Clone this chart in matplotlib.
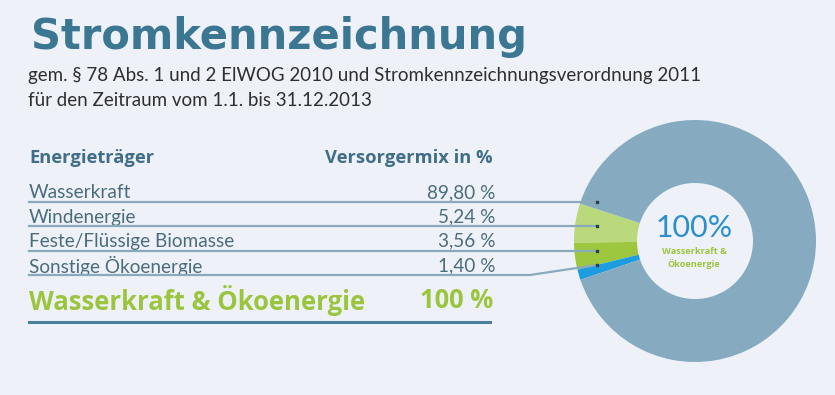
import matplotlib
matplotlib.use("Agg")
import matplotlib.pyplot as plt

# --- Daten ---
energietraeger = ["Wasserkraft", "Windenergie", "Feste/Flüssige Biomasse", "Sonstige Ökoenergie"]
anteile = [89.80, 5.24, 3.56, 1.40]
anteil_labels = ["89,80 %", "5,24 %", "3,56 %", "1,40 %"]
farben = ["#86abc0", "#b9d97c", "#9dc73e", "#1d9de0"]
summe_label = "100 %"

titel = "Stromkennzeichnung"
untertitel = ["gem. § 78 Abs. 1 und 2 ElWOG 2010 und Stromkennzeichnungsverordnung 2011",
              "für den Zeitraum vom 1.1. bis 31.12.2013"]

BG = "#eef2f8"
H = 395
FONT = "Lato"
FONT_B = "Open Sans"

fig = plt.figure(figsize=(8.35, 3.95), dpi=100, facecolor=BG)
ax = fig.add_axes([0, 0, 1, 1])
ax.set_facecolor(BG)


def y(p):
    # Pixel von oben -> Datenkoordinate
    return H - p


def fit(t, width):
    # Schriftgroesse so anpassen, dass der Text die Zielbreite hat
    fig.canvas.draw()
    r = fig.canvas.get_renderer()
    w = t.get_window_extent(r).width
    t.set_fontsize(t.get_fontsize() * width / w)


# --- Titel ---
ax.text(31, y(37), titel, fontsize=30, fontweight="bold", color="#3b7792",
        family="DejaVu Sans", va="center", ha="left")

s1 = ax.text(28, y(76), untertitel[0], fontsize=11, color="#2f2f2f",
             family=FONT, va="center")
fit(s1, 672)
ax.text(28, y(101), untertitel[1], fontsize=s1.get_fontsize(), color="#2f2f2f",
        family=FONT, va="center")

# --- Tabelle ---
txt = "#4b6c7e"
kopf = "#3f6e86"
h1 = ax.text(29, y(158), "Energieträger", fontsize=11, fontweight="bold", color=kopf,
             family=FONT_B, va="center")
fit(h1, 125)
ax.text(493, y(158), "Versorgermix in %", fontsize=h1.get_fontsize(), fontweight="bold",
        color=kopf, family=FONT_B, va="center", ha="right")

zeilen_y = [193, 217, 241, 266]
linien_y = [202, 226, 251, 275]
punkt_y = [202, 226, 251, 265]
probe = ax.text(0, 0, energietraeger[2], fontsize=11, family=FONT)
fit(probe, 204)
fs_row = probe.get_fontsize()
probe.remove()
for name, lab, ty, ly, py in zip(energietraeger, anteil_labels, zeilen_y, linien_y, punkt_y):
    ax.text(29, y(ty), name, fontsize=fs_row, color=txt, family=FONT, va="center")
    ax.text(495, y(ty), lab, fontsize=fs_row, color=txt, family=FONT, va="center", ha="right")
    if ly == py:
        ax.plot([29, 597], [y(ly), y(py)], color="#8aa9ba", lw=1.6, zorder=3)
    else:
        ax.plot([29, 530, 597], [y(ly), y(ly), y(py)], color="#8aa9ba", lw=1.6, zorder=3)
    ax.plot(597, y(py), "s", ms=2, color="#2a3f4a", zorder=4)

g = ax.text(29, y(300), "Wasserkraft & Ökoenergie", fontsize=18, fontweight="bold",
            color="#9cc53f", family=FONT_B, va="center")
fit(g, 337)
ax.text(493, y(300), summe_label, fontsize=g.get_fontsize(), fontweight="bold",
        color="#9cc53f", family=FONT_B, va="center", ha="right")
ax.plot([29, 490], [y(322), y(322)], color="#4c7f9a", lw=2.2)

# --- Donut ---
ax.pie(anteile[1:] + anteile[:1], colors=farben[1:] + farben[:1], startangle=162,
       counterclock=True, center=(695, y(241)), radius=121,
       wedgeprops=dict(width=63, linewidth=0), frame=True)

c = ax.text(694, y(228), "100%", fontsize=22, color="#2b8fcc", family=FONT,
            ha="center", va="center")
fit(c, 77)
ax.text(694, y(252), "Wasserkraft &", fontsize=6.6, fontweight="bold", color="#9cc53f",
        family=FONT_B, ha="center", va="center")
ax.text(694, y(264), "Ökoenergie", fontsize=6.6, fontweight="bold", color="#9cc53f",
        family=FONT_B, ha="center", va="center")

ax.set_xlim(0, 835)
ax.set_ylim(0, H)
ax.set_aspect("auto")
ax.axis("off")

fig.savefig("out.png", dpi=100, facecolor=BG)
